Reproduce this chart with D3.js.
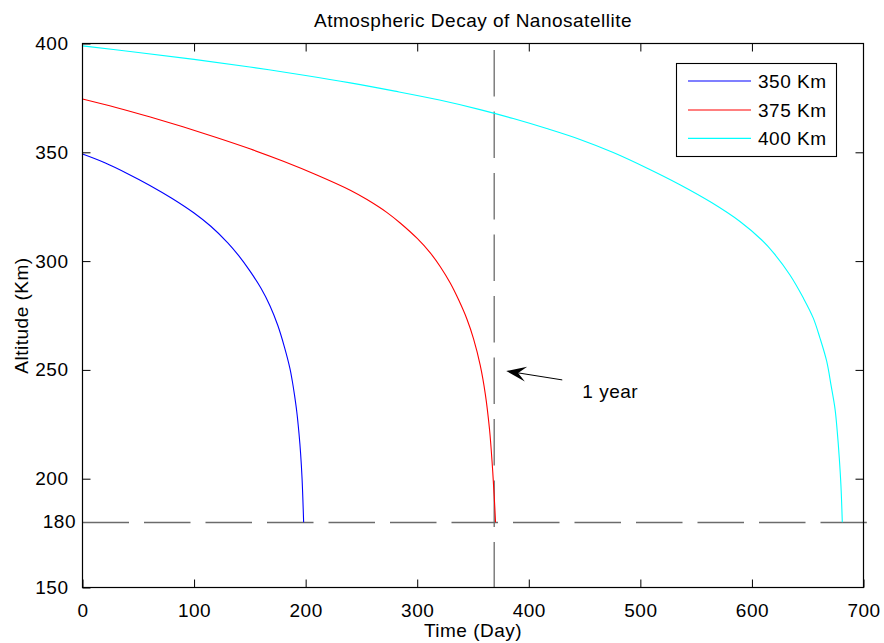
<!DOCTYPE html>
<html>
<head>
<meta charset="utf-8">
<script src="https://cdn.jsdelivr.net/npm/d3@7"></script>
<style>
  html, body { margin: 0; padding: 0; background: #fff; }
  svg { display: block; font-family: "Liberation Sans", Arial, Helvetica, sans-serif; letter-spacing: 0.5px; }
</style>
</head>
<body>
<svg id="chart" width="884" height="643"></svg>
<script>
// Orbit decay simulation output: altitude (km) against elapsed time (days)
const days350 = [0, 20, 40, 60, 80, 100, 115, 130, 140, 150, 160, 168, 175, 181, 186, 188, 190, 192, 194, 195.5, 196.8, 198.2];
const alt350  = [349.2, 345.2, 340.3, 334.9, 328.9, 322.1, 316.0, 308.5, 302.5, 295.5, 287.5, 279.5, 270.5, 260.5, 250.5, 245, 238.5, 231, 221, 211.5, 200, 180];

const days375 = [0, 30, 60, 90, 120, 150, 180, 210, 240, 255, 273, 285, 300, 311.7, 320.7, 329.6, 337.1, 344.6, 350.5, 356.5, 361, 364.8, 367.2, 369, 370.2];
const alt375  = [374.5, 370.6, 366.3, 361.7, 356.8, 351.6, 345.9, 339.6, 332.6, 328.3, 322.3, 317.4, 310.4, 303.8, 297.4, 289.9, 282.2, 273.3, 264.3, 252.1, 239, 222.7, 207, 192, 180];

const days400 = [0, 50, 100, 150, 200, 240, 280, 320, 356.3, 386.1, 416.1, 445.9, 475.7, 505.7, 535.5, 563.8, 589.3, 608.8, 619.2, 634.1, 646.1, 655, 661, 667, 670.9, 674.5, 676.5, 678.3, 679.8, 681];
const alt400  = [398.9, 395.9, 392.7, 389.2, 385.3, 381.9, 378.1, 374.0, 369.6, 365.5, 360.9, 355.9, 349.9, 342.8, 335.1, 326.9, 318.2, 309.7, 303.9, 293.6, 283.0, 273.8, 264.6, 254.0, 243, 232, 221.5, 209.5, 196.6, 180];

const seriesNames  = ["350 Km", "375 Km", "400 Km"];
const seriesColors = ["#0000ff", "#ff0000", "#00ffff"];

const xTicks = [0, 100, 200, 300, 400, 500, 600, 700];
const yTicks = [150, 200, 250, 300, 350, 400];

const reentryAltitude = 180;   // km, decay cut-off
const reentryLineEnd  = 703;   // days, extent of the cut-off line
const oneYearDay      = 369;   // days, position of the "1 year" marker

// annotation: arrow tail -> tip, label anchor (data units)
const arrowTail  = [430, 245.4];
const arrowTip   = [379.8, 249.5];
const arrowLabel = [448, 237];
const arrowText  = "1 year";

const svg = d3.select("#chart");
const FONT = 19;

const x = d3.scaleLinear().domain([0, 700]).range([82.5, 863.5]);
const y = d3.scaleLinear().domain([150, 400]).range([587.5, 43.5]);

const [x0, x1] = x.range();
const [yb, yt] = y.range();

// plot background
svg.append("rect").attr("x", x0).attr("y", yt).attr("width", x1 - x0).attr("height", yb - yt).attr("fill", "#fff");

// reference lines
const dashColor = "#6b6b6b";
svg.append("line")
  .attr("x1", x(0)).attr("x2", x(reentryLineEnd))
  .attr("y1", Math.round(y(reentryAltitude)) + 0.5).attr("y2", Math.round(y(reentryAltitude)) + 0.5)
  .attr("stroke", dashColor).attr("stroke-width", 1.3)
  .attr("stroke-dasharray", "46.5,15");

svg.append("line")
  .attr("x1", x(oneYearDay)).attr("x2", x(oneYearDay))
  .attr("y1", yt).attr("y2", yb)
  .attr("stroke", dashColor).attr("stroke-width", 1.3)
  .attr("stroke-dasharray", "46.5,15").attr("stroke-dashoffset", 55);

// decay curves
const series = [
  { days: days350, alt: alt350 },
  { days: days375, alt: alt375 },
  { days: days400, alt: alt400 }
];
const line = d3.line().x(d => x(d[0])).y(d => y(d[1])).curve(d3.curveCatmullRom.alpha(0.5));
series.forEach((s, i) => {
  svg.append("path")
    .datum(s.days.map((d, j) => [d, s.alt[j]]))
    .attr("d", line)
    .attr("fill", "none")
    .attr("stroke", seriesColors[i])
    .attr("stroke-width", 1.1);
});

// axes (ticks inward on all four sides)
const tickLen = 8;
const axisStyle = g => {
  g.select(".domain").remove();
  g.selectAll("line").attr("stroke", "#000");
  g.selectAll("text").attr("fill", "#000").attr("font-size", FONT).attr("font-family", null);
};
svg.append("g").attr("transform", `translate(0,${yb})`)
  .call(d3.axisBottom(x).tickValues(xTicks).tickSize(-tickLen).tickPadding(tickLen + 8).tickFormat(d3.format("d")))
  .call(axisStyle);
svg.append("g").attr("transform", `translate(0,${yt})`)
  .call(d3.axisTop(x).tickValues(xTicks.slice(1, -1)).tickSize(-tickLen).tickFormat(""))
  .call(axisStyle);
svg.append("g").attr("transform", `translate(${x0},0)`)
  .call(d3.axisLeft(y).tickValues(yTicks).tickSize(-tickLen).tickPadding(tickLen + 6).tickFormat(d3.format("d")))
  .call(axisStyle);
svg.append("g").attr("transform", `translate(${x1},0)`)
  .call(d3.axisRight(y).tickValues(yTicks.slice(1, -1)).tickSize(-tickLen).tickFormat(""))
  .call(axisStyle);

// label for the cut-off altitude
svg.append("text")
  .attr("x", x0 - 6.5).attr("y", y(reentryAltitude)).attr("dy", "0.32em")
  .attr("text-anchor", "end").attr("font-size", FONT).text(reentryAltitude);

// axes box
svg.append("rect").attr("x", x0).attr("y", yt).attr("width", x1 - x0).attr("height", yb - yt)
  .attr("fill", "none").attr("stroke", "#000").attr("stroke-width", 1.2);

// titles
svg.append("text").attr("x", (x0 + x1) / 2).attr("y", 27).attr("text-anchor", "middle")
  .attr("font-size", FONT).text("Atmospheric Decay of Nanosatellite");
svg.append("text").attr("x", (x0 + x1) / 2).attr("y", 637).attr("text-anchor", "middle")
  .attr("font-size", FONT).text("Time (Day)");
svg.append("text").attr("transform", `translate(28,${(yt + yb) / 2}) rotate(-90)`).attr("text-anchor", "middle")
  .attr("font-size", FONT).text("Altitude (Km)");

// arrow annotation
const tx = x(arrowTip[0]), ty = y(arrowTip[1]);
const sx = x(arrowTail[0]), sy = y(arrowTail[1]);
const ang = Math.atan2(ty - sy, tx - sx);
const headLen = 20, headHalf = 7.5, notch = 12;
svg.append("line").attr("x1", sx).attr("y1", sy)
  .attr("x2", tx - Math.cos(ang) * notch).attr("y2", ty - Math.sin(ang) * notch)
  .attr("stroke", "#000").attr("stroke-width", 1);
const rot = (px, py) => [tx + px * Math.cos(ang) - py * Math.sin(ang), ty + px * Math.sin(ang) + py * Math.cos(ang)];
svg.append("path")
  .attr("d", d3.line()([rot(0, 0), rot(-headLen, -headHalf), rot(-notch, 0), rot(-headLen, headHalf)]) + "Z")
  .attr("fill", "#000");
svg.append("text").attr("x", x(arrowLabel[0])).attr("y", y(arrowLabel[1]))
  .attr("font-size", FONT).text(arrowText);

// legend
const lg = svg.append("g").attr("transform", "translate(676,63.5)");
lg.append("rect").attr("x", 0.5).attr("y", 0).attr("width", 160).attr("height", 93)
  .attr("fill", "#fff").attr("stroke", "#000").attr("stroke-width", 1.1);
const rowY = [17.5, 46.5, 74.8];
seriesNames.forEach((name, i) => {
  lg.append("line").attr("x1", 12).attr("x2", 75).attr("y1", rowY[i]).attr("y2", rowY[i])
    .attr("stroke", seriesColors[i]).attr("stroke-width", 1.2);
  lg.append("text").attr("x", 82).attr("y", rowY[i]).attr("dy", "0.36em")
    .attr("font-size", FONT).text(name);
});
</script>
</body>
</html>
